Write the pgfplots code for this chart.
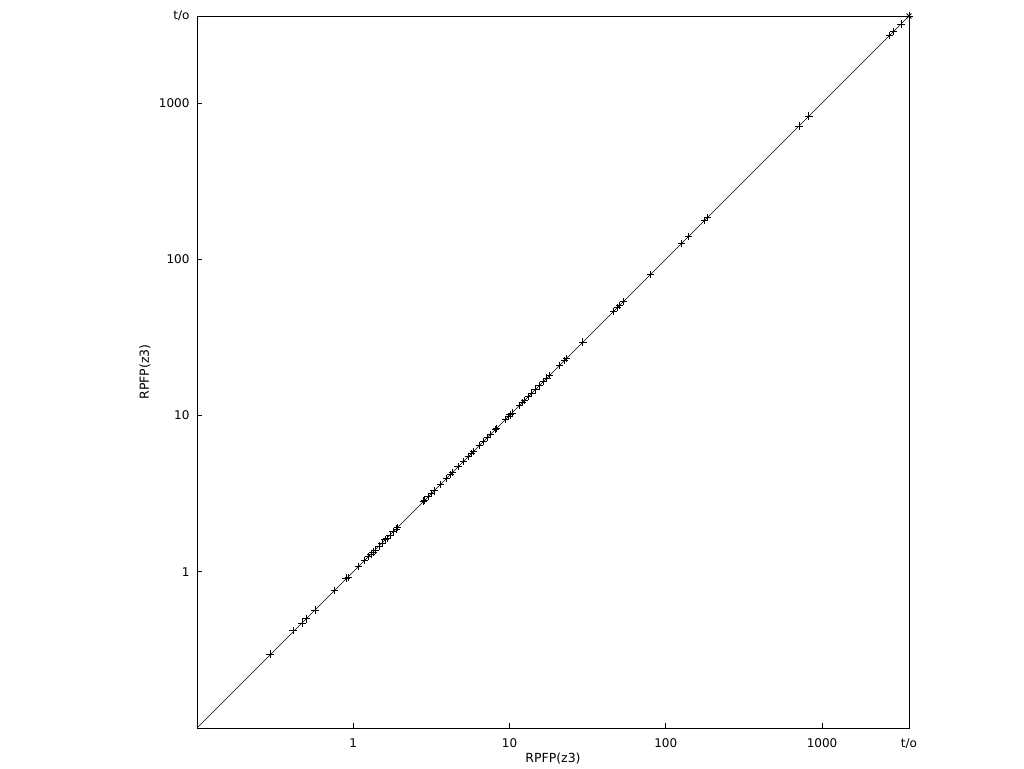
\documentclass[border=0pt]{standalone}
\usepackage{pgfplots}
\pgfplotsset{compat=1.18}
\usepackage{fontspec}
\setmainfont{DejaVu Sans}
\begin{document}
\begin{tikzpicture}[x=1pt,y=1pt]
\path[use as bounding box] (0,0) rectangle (1024,768);
\begin{axis}[
  at={(197pt,40pt)}, anchor=south west,
  scale only axis, width=712pt, height=712pt,
  xmode=log, ymode=log,
  xmin=0.1, xmax=3600, ymin=0.1, ymax=3600,
  xtick={1,10,100,1000,3600}, xticklabels={1,10,100,1000,t/o},
  ytick={1,10,100,1000,3600}, yticklabels={1,10,100,1000,t/o},
  minor tick num=0, minor xtick={}, minor ytick={},
  tick align=inside, major tick length=5pt,
  xtick pos=left, ytick pos=left,
  tick style={black, line width=0.7pt},
  tick label style={font=\fontsize{12}{14}\selectfont},
  label style={font=\fontsize{12.5}{14}\selectfont},
  xticklabel style={yshift=-7pt},
  yticklabel style={xshift=-4pt},
  xlabel={RPFP(z3)}, ylabel={RPFP(z3)},
  xlabel style={at={(0.5,0)}, anchor=north, yshift=-21pt},
  ylabel style={at={(0,0.5)}, anchor=south, yshift=43pt},
  axis line style={line width=0.8pt},
  /pgf/number format/assume math mode=true,
  clip marker paths=false,
]
\addplot[black, line width=0.7pt, no marks] coordinates {(0.1,0.1) (3600,3600)};
\addplot[only marks, mark=+, mark size=3.8pt, black, line width=0.6pt] coordinates {
(0.294,0.298)(0.412,0.42)(0.47,0.47)(0.50,0.50)(0.57,0.57)(0.76,0.76)(0.90,0.91)(0.93,0.92)
(1.08,1.08)(1.18,1.18)(1.25,1.25)(1.30,1.30)(1.34,1.34)(1.38,1.38)(1.47,1.46)(1.53,1.53)
(1.60,1.61)(1.65,1.63)(1.72,1.72)(1.80,1.81)(1.89,1.87)(1.92,1.92)
(2.81,2.83)(2.85,2.86)(3.02,3.03)(3.16,3.16)(3.30,3.30)(3.61,3.62)(3.94,3.95)(4.18,4.18)(4.31,4.31)
(4.70,4.71)(5.07,5.07)(5.46,5.46)(5.70,5.70)(5.88,5.88)(6.42,6.42)(6.82,6.82)(7.24,7.24)(7.55,7.55)
(8.12,8.12)(8.25,8.25)(9.44,9.44)(9.86,9.86)(10.1,10.1)(10.4,10.4)(11.6,11.6)(12.1,12.1)(12.5,12.5)
(13.2,13.2)(13.8,13.8)(14.6,14.6)(15.5,15.5)(16.5,16.5)(17.3,17.3)(18.0,18.0)(20.9,20.9)(22.5,22.5)
(23.2,23.2)(29.4,29.4)(46.3,46.3)(49.1,49.1)(50.6,50.6)(53.7,53.7)(80.0,80.0)(126,126)(140,140)
(177,177)(185,185)(710,710)(822,822)(2700,2700)(2860,2860)(3200,3200)(3600,3600)
};
\addplot[only marks, mark=x, mark size=3.5pt, black, line width=0.8pt] coordinates {(3600,3600)};
\end{axis}
\end{tikzpicture}
\end{document}
